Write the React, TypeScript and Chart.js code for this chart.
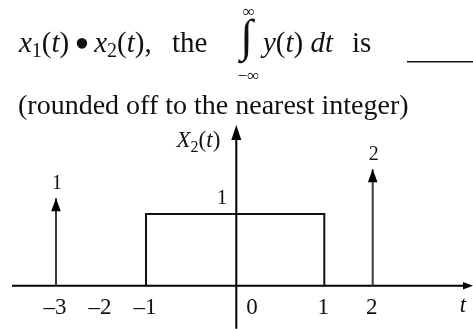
import { useEffect, useRef } from 'react';
import { Chart, registerables, LinearScale } from 'chart.js';

// ---------------- data ----------------
const rectT = [-1, -1, 1, 1];
const rectV = [0, 1, 1, 0];
const rectLabel = '1';
const impulseT = [-3, 2];
const impulseW = [1, 2];
const impulseLabels = ['1', '2'];
const tickValues = [-3, -2, -1, 0, 1, 2];
const tickLabels = ['–3', '–2', '–1', '0', '1', '2'];
const xAxisName = 't';

// ---------------- layout (not data) ----------------
const W = 473;
const H = 329;
const FONT = '"Liberation Serif", "Times New Roman", serif';
// piecewise (not-to-scale) axis mapping: value -> pixel, converted to fractions
const X_STOPS = [[-4, 12], [-3, 56], [-1, 146], [0, 236.3], [1, 324.3], [2, 372.7], [4, 473]].map(([v, p]) => [v, p / W]);
const Y_STOPS = [[0, 285.7], [1, 214]].map(([v, p]) => [v, (H - p) / H]);
const YIMP_STOPS = [[0, 285.7], [1, 198.3], [2, 169.3]].map(([v, p]) => [v, (H - p) / H]);
const STOPS: Record<string, number[][]> = { x: X_STOPS, y: Y_STOPS, yImp: YIMP_STOPS };

function fwd(stops: number[][], v: number) {
  let i = 0;
  while (i < stops.length - 2 && v > stops[i + 1][0]) i++;
  const [v0, f0] = stops[i];
  const [v1, f1] = stops[i + 1];
  return f0 + ((v - v0) * (f1 - f0)) / (v1 - v0);
}
function inv(stops: number[][], f: number) {
  let i = 0;
  while (i < stops.length - 2 && f > stops[i + 1][1]) i++;
  const [v0, f0] = stops[i];
  const [v1, f1] = stops[i + 1];
  return v0 + ((f - f0) * (v1 - v0)) / (f1 - f0);
}

class PiecewiseScale extends LinearScale {
  static id = 'piecewise';
  getPixelForValue(value: number) {
    const s = STOPS[(this as any).id];
    const f = fwd(s, value);
    return this.isHorizontal() ? this.left + f * this.width : this.bottom - f * this.height;
  }
  getValueForPixel(pixel: number) {
    const s = STOPS[(this as any).id];
    const f = this.isHorizontal() ? (pixel - this.left) / this.width : (this.bottom - pixel) / this.height;
    return inv(s, f);
  }
}

Chart.register(...registerables, PiecewiseScale);

type Run = { t: string; it?: boolean; s?: number; dy?: number };

function drawRuns(ctx: CanvasRenderingContext2D, x: number, y: number, rs: Run[], base = 29, align: 'left' | 'right' | 'center' = 'left') {
  const fontOf = (r: Run) => `${r.it ? 'italic ' : ''}${r.s ?? base}px ${FONT}`;
  let total = 0;
  for (const r of rs) {
    ctx.font = fontOf(r);
    total += ctx.measureText(r.t).width;
  }
  let cx = align === 'left' ? x : align === 'right' ? x - total : x - total / 2;
  ctx.textAlign = 'left';
  ctx.textBaseline = 'alphabetic';
  for (const r of rs) {
    ctx.font = fontOf(r);
    ctx.fillText(r.t, cx, y + (r.dy ?? 0));
    cx += ctx.measureText(r.t).width;
  }
}

function arrow(ctx: CanvasRenderingContext2D, tx: number, ty: number, dir: 'up' | 'right', len: number, half: number) {
  ctx.beginPath();
  if (dir === 'up') {
    ctx.moveTo(tx, ty);
    ctx.lineTo(tx - half, ty + len);
    ctx.lineTo(tx + half, ty + len);
  } else {
    ctx.moveTo(tx, ty);
    ctx.lineTo(tx - len, ty - half);
    ctx.lineTo(tx - len, ty + half);
  }
  ctx.closePath();
  ctx.fill();
}

const decor = {
  id: 'decor',
  beforeDatasetsDraw(chart: any) {
    const ctx: CanvasRenderingContext2D = chart.ctx;
    const xs = chart.scales.x;
    const ys = chart.scales.y;
    ctx.save();
    ctx.strokeStyle = '#000';
    ctx.lineWidth = 2;
    const y0 = ys.getPixelForValue(0);
    const x0 = xs.getPixelForValue(0);
    ctx.beginPath();
    ctx.moveTo(xs.getPixelForValue(-4), y0);
    ctx.lineTo(xs.getPixelForValue(4) - 6, y0);
    ctx.moveTo(x0, ys.getPixelForValue(-0.6));
    ctx.lineTo(x0, ys.getPixelForValue(2.24) + 8);
    ctx.stroke();
    ctx.restore();
  },
  afterDatasetsDraw(chart: any) {
    const ctx: CanvasRenderingContext2D = chart.ctx;
    const xs = chart.scales.x;
    const ys = chart.scales.y;
    const yi = chart.scales.yImp;
    ctx.save();
    ctx.fillStyle = '#000';
    const y0 = ys.getPixelForValue(0);
    const x0 = xs.getPixelForValue(0);
    // axis arrowheads
    arrow(ctx, xs.getPixelForValue(4), y0, 'right', 10, 3.8);
    arrow(ctx, x0, ys.getPixelForValue(2.24), 'up', 15, 5);
    // impulse arrowheads + labels
    impulseT.forEach((t, i) => {
      const px = xs.getPixelForValue(t);
      const py = yi.getPixelForValue(impulseW[i]);
      arrow(ctx, px, py, 'up', 13, 4.8);
      ctx.fillStyle = '#111';
      ctx.font = `20px ${FONT}`;
      ctx.textAlign = 'center';
      ctx.textBaseline = 'alphabetic';
      ctx.fillText(impulseLabels[i], px + 1, py - 9);
      ctx.fillStyle = '#000';
    });
    // rect amplitude label
    ctx.fillStyle = '#111';
    ctx.font = `21px ${FONT}`;
    ctx.textAlign = 'right';
    ctx.fillText(rectLabel, x0 - 9, ys.getPixelForValue(rectV[1]) - 10);
    // tick labels
    ctx.font = `23px ${FONT}`;
    tickValues.forEach((v, i) => {
      const px = xs.getPixelForValue(v);
      if (v === 0) {
        ctx.textAlign = 'left';
        ctx.fillText(tickLabels[i], px + 10, y0 + 28.5);
      } else {
        ctx.textAlign = 'center';
        ctx.fillText(tickLabels[i], px - 1, y0 + 28.5);
      }
    });
    ctx.font = `italic 23px ${FONT}`;
    ctx.textAlign = 'center';
    ctx.fillText(xAxisName, 463, y0 + 26.5);
    // y axis name X2(t)
    drawRuns(ctx, x0 - 16, 147, [
      { t: 'X', it: true },
      { t: '2', s: 16, dy: 5 },
      { t: '(' },
      { t: 't', it: true },
      { t: ')' },
    ], 23, 'right');

    // ---------- question text ----------
    ctx.fillStyle = '#111';
    drawRuns(ctx, 19, 52, [
      { t: 'x', it: true },
      { t: '1', s: 20, dy: 5 },
      { t: '(' },
      { t: 't', it: true },
      { t: ')' },
      { t: ' ', s: 20 },
      { t: '•', s: 44, dy: 6 },
      { t: ' ', s: 18 },
      { t: 'x', it: true },
      { t: '2', s: 20, dy: 5 },
      { t: '(' },
      { t: 't', it: true },
      { t: '),' },
    ]);
    drawRuns(ctx, 172, 52, [{ t: 'the' }]);
    // integral sign scaled to span 18..63
    ctx.font = `100px ${FONT}`;
    const m = ctx.measureText('∫');
    const gh = m.actualBoundingBoxAscent + m.actualBoundingBoxDescent;
    const size = (45 / gh) * 100;
    ctx.font = `${size}px ${FONT}`;
    const m2 = ctx.measureText('∫');
    ctx.textAlign = 'center';
    ctx.fillText('∫', 246.5, 18 + m2.actualBoundingBoxAscent);
    ctx.font = `17px ${FONT}`;
    ctx.fillText('∞', 248.7, 17);
    ctx.fillText('−∞', 248.5, 81);
    drawRuns(ctx, 263, 52, [
      { t: 'y', it: true },
      { t: '(' },
      { t: 't', it: true },
      { t: ')' },
      { t: ' ' },
      { t: 'dt', it: true },
    ]);
    drawRuns(ctx, 352, 52, [{ t: 'is' }]);
    ctx.fillRect(407, 61, 66, 1.5);
    drawRuns(ctx, 18, 114, [{ t: '(rounded off to the nearest integer)' }], 28);
    ctx.restore();
  },
};

export default function App() {
  const ref = useRef<HTMLCanvasElement>(null);
  useEffect(() => {
    let chart: Chart | null = null;
    let cancelled = false;
    const make = () => {
      if (cancelled || !ref.current) return;
      const datasets: any[] = [
        {
          data: rectT.map((t, i) => ({ x: t, y: rectV[i] })),
          showLine: true,
          borderColor: '#111',
          borderWidth: 2,
          pointRadius: 0,
          borderJoinStyle: 'miter',
          xAxisID: 'x',
          yAxisID: 'y',
        },
        ...impulseT.map((t, i) => ({
          data: [
            { x: t, y: 0 },
            { x: t, y: impulseW[i] },
          ],
          showLine: true,
          borderColor: '#3a3a3a',
          borderWidth: 2,
          pointRadius: 0,
          xAxisID: 'x',
          yAxisID: 'yImp',
        })),
      ];
      chart = new Chart(ref.current, {
        type: 'scatter',
        data: { datasets },
        options: {
          animation: false,
          responsive: false,
          events: [],
          layout: { padding: 0 },
          plugins: { legend: { display: false }, tooltip: { enabled: false } },
          scales: {
            x: { type: 'piecewise' as any, min: -4, max: 4, display: false },
            y: { type: 'piecewise' as any, min: -0.6, max: 4, display: false },
            yImp: { type: 'piecewise' as any, min: -0.6, max: 3, display: false },
          },
        },
        plugins: [decor],
      });
    };
    const fonts = (document as any).fonts;
    if (fonts && fonts.load) {
      Promise.all([fonts.load(`29px ${FONT}`), fonts.load(`italic 29px ${FONT}`)]).then(make, make);
    } else make();
    return () => {
      cancelled = true;
      if (chart) chart.destroy();
    };
  }, []);
  return (
    <div style={{ position: 'absolute', left: 0, top: 0, width: W, height: H, background: '#fff' }}>
      <canvas ref={ref} width={W} height={H} style={{ display: 'block' }} />
    </div>
  );
}
